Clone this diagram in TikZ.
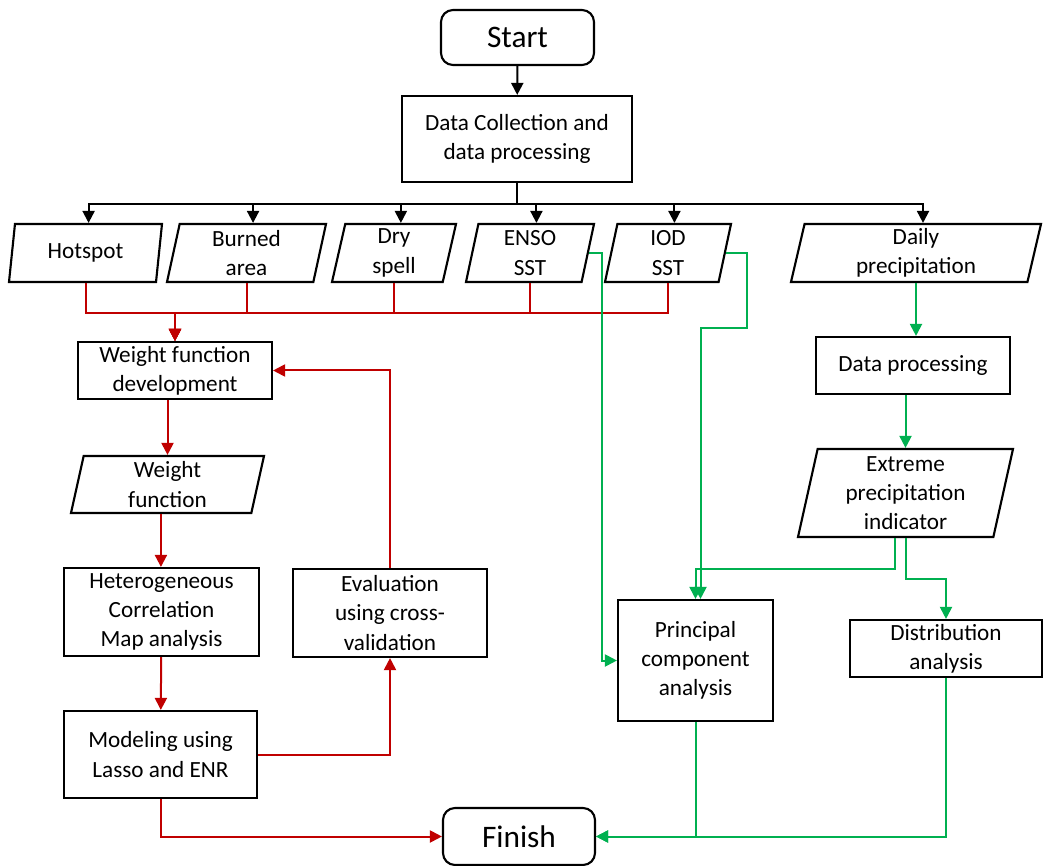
\documentclass[tikz,border=0pt]{standalone}
\usepackage{fontspec}
\setmainfont{Carlito}
\usetikzlibrary{arrows.meta}
\usetikzlibrary{shapes.geometric}
\usetikzlibrary{calc}

\definecolor{flowred}{RGB}{192,0,0}
\definecolor{flowgreen}{RGB}{0,176,80}

\tikzset{
  box/.style={draw, line width=1.6pt, align=center, inner sep=2pt},
  term/.style={box, rounded corners=9pt, font=\fontsize{23.5}{28}\selectfont},
  dataio/.style={box, trapezium, trapezium left angle=76, trapezium right angle=104, trapezium stretches body},
  flow/.style={line width=1.5pt, -{Triangle[length=9pt,width=9pt]}},
  redflow/.style={flow, draw=flowred, -{Triangle[length=9pt,width=9pt,fill=flowred]}},
  greenflow/.style={flow, draw=flowgreen, -{Triangle[length=9pt,width=9pt,fill=flowgreen]}}
}

\begin{document}
\begin{tikzpicture}[x=0.75pt,y=0.75pt,yscale=-1,xscale=1, every node/.style={font=\fontsize{17.4}{21.9}\selectfont}]
\useasboundingbox (0,0) rectangle (1043,866);

%Terminals
\node [term, minimum width=114.75pt, minimum height=41.25pt] (start) at (517.5,37.5) {Start};
\node [term, minimum width=114pt, minimum height=42.75pt] (finish) at (519,836.5) {Finish};

%Data collection
\node [box, minimum width=172.5pt, minimum height=64.5pt] (data) at (517,139) {Data Collection and\\data processing};

%Input data
\node [dataio, minimum width=114.75pt, minimum height=43.5pt] (hot) at (85.5,253) {Hotspot};
\node [dataio, minimum width=119.25pt, minimum height=43.5pt] (burned) at (246.5,253) {Burned\\area};
\node [dataio, minimum width=93pt, minimum height=43.5pt] (dry) at (394,253) {Dry\\spell};
\node [dataio, minimum width=96pt, minimum height=43.5pt] (enso) at (530,253) {ENSO\\SST};
\node [dataio, minimum width=94.5pt, minimum height=43.5pt] (iod) at (668,253) {IOD\\SST};
\node [dataio, minimum width=187.5pt, minimum height=43.5pt] (daily) at (916,253) {Daily\\precipitation};

%Left branch
\node [box, minimum width=145.5pt, minimum height=42.75pt] (wfd) at (175,370.5) {Weight function\\development};
\node [dataio, minimum width=144.75pt, minimum height=42.75pt] (wf) at (167.5,484.5) {Weight\\function};
\node [box, minimum width=146.25pt, minimum height=66pt] (hcm) at (161.5,612) {Heterogeneous\\Correlation\\Map analysis};
\node [box, minimum width=145.5pt, minimum height=66pt] (eval) at (390,613) {Evaluation\\using cross-\\validation};
\node [box, minimum width=144.75pt, minimum height=65.25pt] (model) at (160.5,754.5) {Modeling using\\Lasso and ENR};

%Right branch
\node [box, minimum width=145.5pt, minimum height=42.75pt] (dp) at (913,365.5) {Data processing};
\node [dataio, minimum width=161.25pt, minimum height=66pt] (epi) at (905.5,493) {Extreme\\precipitation\\indicator};
\node [box, minimum width=116.25pt, minimum height=90.75pt] (pca) at (695.5,660.5) {Principal\\component\\analysis};
\node [box, minimum width=144pt, minimum height=42.75pt] (dist) at (946,648.5) {Distribution\\analysis};

%Black connectors
\draw [flow] (start) -- (data);
\foreach \n in {hot,burned,dry,enso,iod,daily}
  \draw [flow] (data.south) -- ++(0,21) -| (\n.top side);

%Red connectors
\foreach \n in {hot,burned,dry,enso,iod}
  \draw [redflow] (\n.south) -- ++(0,30) -| (wfd.north);
\draw [redflow] (wfd.south -| wf.north) -- (wf.north);
\draw [redflow] (wf.bottom side) -- (wf.bottom side |- hcm.north);
\draw [redflow] (hcm) -- (model);
\draw [redflow] (model.east) -| (eval.south);
\draw [redflow] (eval.north) |- (wfd.east);
\draw [redflow] (model.south) |- (finish.west);

%Green connectors
\draw [greenflow] (daily.south) -- (daily.south |- dp.north);
\draw [greenflow] (epi.north |- dp.south) -- (epi.north);
\draw [greenflow] (epi.bottom side) -- ++(0,31) -| (pca.north);
\draw [greenflow] (epi.south) -- ++(0,41) -| (dist.north);
\draw [greenflow] (iod.right side) -- ++(21,0) -- ++(0,75) -| ($(pca.north)+(5,0)$);
\draw [greenflow] (enso.right side) -- ++(13,0) |- (pca.west);
\draw [greenflow] (pca.south) |- (finish.east);
\draw [greenflow] (dist.south) |- (finish.east);

\end{tikzpicture}
\end{document}
